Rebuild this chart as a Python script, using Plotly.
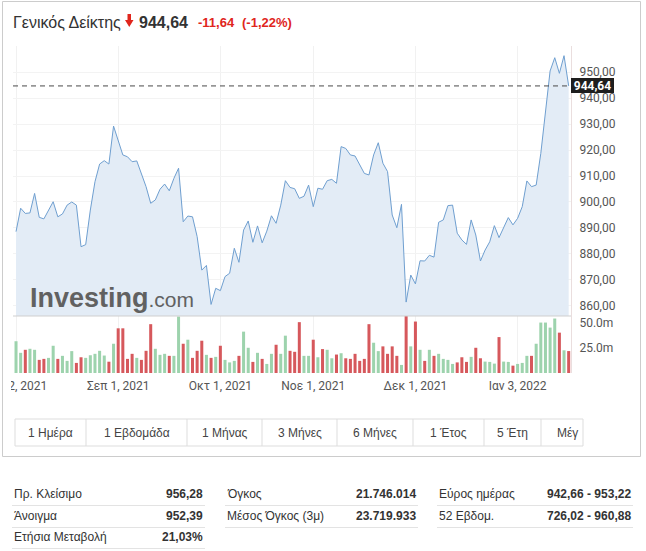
import pandas as pd
import plotly.graph_objects as go

# ---------------- data ----------------
price = [
    888.6, 897.6, 895.6, 895.8, 903.3, 894.1, 893.5, 896.9, 900.1, 894.3,
    895.4, 898.8, 900.0, 898.8, 882.8, 883.6, 896.9, 907.8, 914.6, 915.9,
    914.6, 929.2, 923.8, 918.1, 917.4, 915.5, 915.8, 911.0, 905.9, 899.5,
    900.8, 904.9, 906.9, 904.3, 909.1, 913.0, 892.4, 894.6, 894.3, 886.7,
    873.8, 875.6, 860.6, 866.8, 865.9, 871.3, 872.6, 882.2, 876.8, 889.2,
    892.7, 884.5, 890.8, 884.3, 888.8, 894.7, 891.8, 898.8, 908.2, 905.6,
    905.1, 901.4, 902.2, 906.5, 898.2, 905.3, 904.9, 908.2, 908.7, 907.2,
    921.3, 920.6, 918.1, 917.7, 914.2, 911.0, 910.4, 918.1, 922.8, 914.9,
    911.7, 895.0, 890.1, 899.1, 861.5, 871.9, 868.5, 877.4, 877.3, 879.5,
    878.8, 892.2, 893.1, 898.6, 898.8, 888.0, 885.4, 883.7, 893.1, 887.3,
    877.3, 881.5, 884.7, 890.9, 886.3, 889.9, 894.0, 891.2, 893.7, 898.2,
    908.1, 905.9, 906.5, 918.7, 934.7, 950.4, 955.5, 949.5, 956.28, 944.64,
]
volume_m = [
    31.5, 20, 23, 24, 23, 13, 14, 15, 27, 14,
    17, 12, 21.7, 10, 15.6, 15, 17.6, 19, 22, 17.3,
    11.2, 29, 44.3, 44.3, 14, 19, 15, 13, 22, 48.4,
    24, 18, 19, 17, 17, 56, 29, 33, 15, 22,
    32, 18, 15, 16, 27, 13, 10.5, 12, 17, 41,
    25, 11, 20, 14, 9, 19, 28, 19, 37, 22,
    21, 50.4, 17, 17, 33, 15.6, 23.7, 23, 14.6, 18.3,
    19.6, 14.6, 14, 19, 12, 14, 48.4, 30, 21.7, 26.4,
    19, 26.4, 17, 8, 57, 26.4, 51, 23, 12, 23,
    17, 19, 14, 13, 9, 10.5, 15.6, 11, 16, 25,
    14.6, 11.3, 11, 9.3, 35.6, 11.3, 11, 7.3, 9, 10,
    17, 17, 29, 50, 50, 45, 54, 40, 22.5, 21.75,
]
holidays = ["2021-10-28", "2021-12-24", "2022-01-06"]
dates = [d.strftime("%Y-%m-%d") for d in pd.bdate_range("2021-08-02", "2022-01-19")
         if d.strftime("%Y-%m-%d") not in holidays]

x_tick_dates = ["2021-08-02", "2021-09-01", "2021-10-01", "2021-11-01", "2021-12-01", "2022-01-03"]
x_tick_labels = ["Αυγ 2, 2021", "Σεπ 1, 2021", "Οκτ 1, 2021", "Νοε 1, 2021", "Δεκ 1, 2021", "Ιαν 3, 2022"]
price_ticks = [860, 870, 880, 890, 900, 910, 920, 930, 940, 950]
vol_ticks = [25, 50]
vol_tick_labels = ["25.0m", "50.0m"]

title_name = "Γενικός Δείκτης"
last_text = "944,64"
chg_text = "-11,64"
pct_text = "(-1,22%)"
buttons = ["1 Ημέρα", "1 Εβδομάδα", "1 Μήνας", "3 Μήνες", "6 Μήνες", "1 Έτος", "5 Έτη", "Μέγ"]
table_cols = [
    [("Πρ. Κλείσιμο", "956,28"), ("Άνοιγμα", "952,39"), ("Ετήσια Μεταβολή", "21,03%")],
    [("Όγκος", "21.746.014"), ("Μέσος Όγκος (3μ)", "23.719.933")],
    [("Εύρος ημέρας", "942,66 - 953,22"), ("52 Εβδομ.", "726,02 - 960,88")],
]

# ---------------- layout geometry (pixels) ----------------
W, H = 646, 551
L, R, T, B = 13, 571, 46, 373
PW, PH = R - L, B - T
SPLIT = 316


def fx(x):
    return (x - L) / PW


def fy(y):
    return (B - y) / PH


GREEN = "#9dd3ad"
RED = "#d6585c"
bar_colors = [GREEN] + [GREEN if price[i] >= price[i - 1] else RED for i in range(1, len(price))]

AX_FONT = dict(family="Roboto, Arial, sans-serif", size=12, color="#555555")
TXT = "Liberation Sans, Arial, sans-serif"

fig = go.Figure()
fig.add_trace(go.Scatter(
    x=dates, y=price, mode="lines", line=dict(color="#6f9fd0", width=1),
    fill="tozeroy", fillcolor="#e3ecf6", yaxis="y", xaxis="x", hoverinfo="skip"))
fig.add_trace(go.Bar(
    x=dates, y=volume_m, marker=dict(color=bar_colors, line=dict(width=0)),
    yaxis="y2", xaxis="x", hoverinfo="skip"))

vdom = fy(SPLIT)
fig.update_layout(
    template="none",
    width=W, height=H, margin=dict(l=L, r=W - R, t=T, b=H - B, autoexpand=False),
    paper_bgcolor="white", plot_bgcolor="white", showlegend=False,
    bargap=0.35, separators=",.",
    xaxis=dict(type="category", range=[-0.65, len(dates) - 0.5], anchor="y2", automargin=False,
               tickvals=x_tick_dates, ticktext=x_tick_labels, tickfont=AX_FONT,
               showgrid=True, gridcolor="#f1f1f1", gridwidth=1, ticks="", ticklabelstandoff=4,
               showline=False, zeroline=False, tickangle=0),
    yaxis=dict(domain=[vdom, 1], range=[856.15, 960], side="right", anchor="x", automargin=False,
               tickvals=price_ticks, tickformat=".2f", tickfont=AX_FONT,
               showgrid=True, gridcolor="#f3f3f3", showline=True, linecolor="#eadede",
               ticks="", ticklabelstandoff=5, zeroline=False),
    yaxis2=dict(domain=[0, vdom], range=[0, 56.5], side="right", anchor="x", automargin=False,
                tickvals=vol_ticks, ticktext=vol_tick_labels, tickfont=AX_FONT,
                showgrid=False, showline=True, linecolor="#eadede",
                ticks="", ticklabelstandoff=5, zeroline=False),
)

shapes = []
ann = []

# separator between price and volume panels
shapes.append(dict(type="line", xref="paper", yref="paper", x0=0, x1=1, y0=vdom, y1=vdom,
                   line=dict(color="#cfcfcf", width=1), layer="above"))
# last price dashed line
shapes.append(dict(type="line", xref="paper", yref="y", x0=0, x1=1, y0=price[-1], y1=price[-1],
                   line=dict(color="#4a4a4a", width=1, dash="5px,4px"), layer="above"))
ann.append(dict(xref="paper", yref="y", x=1, y=price[-1], xanchor="left", yanchor="middle",
                text="<b>" + last_text + "</b>", showarrow=False, bgcolor="#1e1e1e",
                font=dict(family="Roboto, Arial, sans-serif", size=12, color="white"),
                borderpad=0, borderwidth=0, width=43, height=15))

# logo watermark
ann.append(dict(xref="paper", yref="paper", x=fx(28), y=fy(298), xanchor="left", yanchor="middle",
                text="<b>Investing</b><span style='font-size:21px'>.com</span>", showarrow=False,
                font=dict(family=TXT, size=27, color="#616161")))

# cover for clipped first tick label
shapes.append(dict(type="rect", xref="paper", yref="paper", x0=fx(0), x1=fx(11), y0=fy(400), y1=fy(376),
                   fillcolor="white", line=dict(width=0), layer="above"))

# outer widget border
shapes.append(dict(type="rect", xref="paper", yref="paper", x0=fx(2.5), x1=fx(640.5), y0=fy(456.5), y1=fy(1.5),
                   line=dict(color="#cccccc", width=1), fillcolor="rgba(0,0,0,0)", layer="above"))

# title
ann.append(dict(xref="paper", yref="paper", x=fx(11), y=fy(22), xanchor="left", yanchor="middle",
                text=title_name, showarrow=False, font=dict(family=TXT, size=16, color="#333333")))
# red down arrow
shapes.append(dict(type="path", xref="paper", yref="paper",
                   path="M {} {} L {} {} L {} {} L {} {} L {} {} L {} {} L {} {} Z".format(
                       fx(127.5), fy(14), fx(131), fy(14), fx(131), fy(20), fx(133.5), fy(20),
                       fx(129.25), fy(27), fx(125), fy(20), fx(127.5), fy(20)),
                   fillcolor="#e0261d", line=dict(width=0), layer="above"))
ann.append(dict(xref="paper", yref="paper", x=fx(137), y=fy(22), xanchor="left", yanchor="middle",
                text="<b>" + last_text + "</b>", showarrow=False, font=dict(family=TXT, size=16, color="#333333")))
ann.append(dict(xref="paper", yref="paper", x=fx(196), y=fy(22), xanchor="left", yanchor="middle",
                text="<b>" + chg_text + "</b>", showarrow=False, font=dict(family=TXT, size=13, color="#e0261d")))
ann.append(dict(xref="paper", yref="paper", x=fx(240), y=fy(22), xanchor="left", yanchor="middle",
                text="<b>" + pct_text + "</b>", showarrow=False, font=dict(family=TXT, size=13, color="#e0261d")))

# range buttons
bx = [15, 86, 187, 262, 337, 413, 484, 541, 583]
by0, by1 = 419, 446
shapes.append(dict(type="rect", xref="paper", yref="paper", x0=fx(bx[0]), x1=fx(bx[-1]), y0=fy(by1), y1=fy(by0),
                   line=dict(color="#dddddd", width=1), fillcolor="white", layer="above"))
for sx in bx[1:-1]:
    shapes.append(dict(type="line", xref="paper", yref="paper", x0=fx(sx), x1=fx(sx), y0=fy(by1), y1=fy(by0),
                       line=dict(color="#dddddd", width=1), layer="above"))
for i, lab in enumerate(buttons):
    if i < len(buttons) - 1:
        ann.append(dict(xref="paper", yref="paper", x=fx((bx[i] + bx[i + 1]) / 2), y=fy(432.5),
                        xanchor="center", yanchor="middle", text=lab, showarrow=False,
                        font=dict(family=TXT, size=12, color="#444444")))
    else:
        ann.append(dict(xref="paper", yref="paper", x=fx(555), y=fy(432.5),
                        xanchor="left", yanchor="middle", text=lab, showarrow=False,
                        font=dict(family=TXT, size=12, color="#444444")))

# stats table
col_x = [(12, 205), (225, 418), (437, 633)]
row_y = [494, 516, 537]
line_y = [505.5, 527.5, 548.5]
for ci, col in enumerate(table_cols):
    x0, x1 = col_x[ci]
    for ri, (lab, val) in enumerate(col):
        ann.append(dict(xref="paper", yref="paper", x=fx(x0), y=fy(row_y[ri]), xanchor="left", yanchor="middle",
                        text=lab, showarrow=False, font=dict(family=TXT, size=12, color="#333333")))
        ann.append(dict(xref="paper", yref="paper", x=fx(x1), y=fy(row_y[ri]), xanchor="right", yanchor="middle",
                        text="<b>" + val + "</b>", showarrow=False, font=dict(family=TXT, size=12, color="#333333")))
        shapes.append(dict(type="line", xref="paper", yref="paper", x0=fx(x0), x1=fx(x1),
                           y0=fy(line_y[ri]), y1=fy(line_y[ri]), line=dict(color="#e3e3e3", width=1),
                           layer="above"))

fig.update_layout(shapes=shapes, annotations=ann)
fig.write_html("out.html")
